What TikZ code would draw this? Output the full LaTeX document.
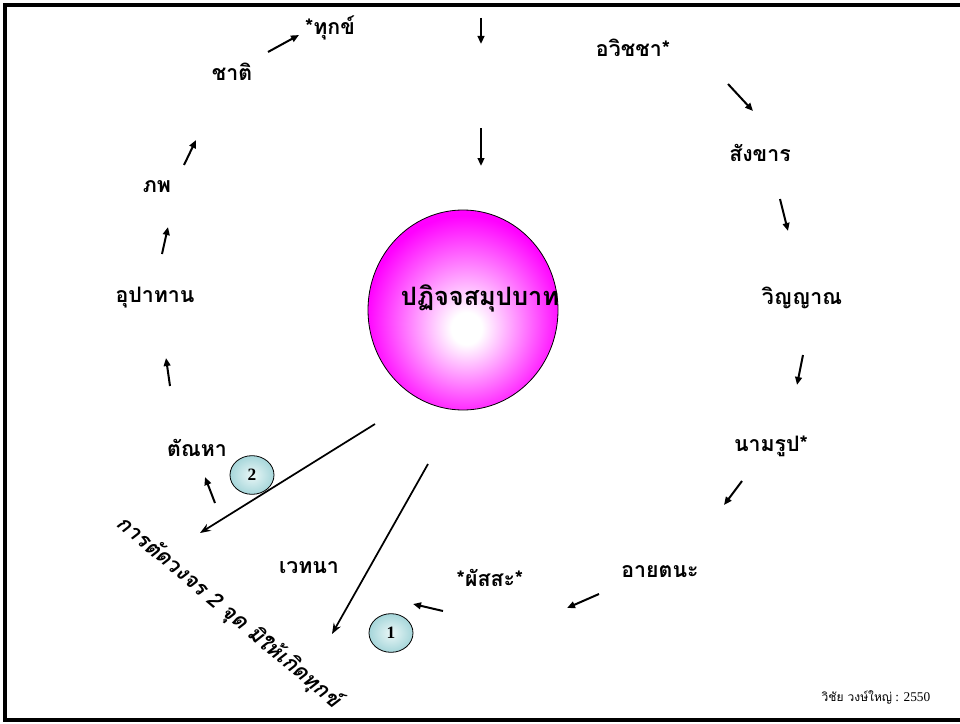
\documentclass[tikz,border=0pt]{standalone}
\usepackage{fontspec}
\setmainfont{Liberation Serif}
\newfontfamily\thai[Script=Thai]{Loma}
\usetikzlibrary{arrows.meta,shapes.geometric}
\definecolor{numin}{HTML}{EAF7F7}
\definecolor{numout}{HTML}{A6D6DA}
\pgfdeclareradialshading{ballshade}{\pgfpoint{1bp}{-5bp}}{color(0bp)=(white); color(4bp)=(white); color(26bp)=(magenta); color(50bp)=(magenta)}
\pgfdeclareradialshading{numshade}{\pgfpoint{0bp}{0bp}}{color(0bp)=(numin); color(25bp)=(numout); color(50bp)=(numout)}
\begin{document}
\begin{tikzpicture}[x=0.75pt,y=-0.75pt,
  lbl/.style={font=\thai\bfseries\fontsize{16}{19}\selectfont, inner sep=0pt},
  arr/.style={line width=1.5pt, -{Triangle[length=6pt,width=5pt]}},
  longarr/.style={line width=1.3pt, -{Stealth[length=8pt,width=6pt]}},
  num/.style={ellipse, draw, line width=0.6pt, shading=numshade, minimum width=33pt, minimum height=29pt, inner sep=0pt, font=\bfseries\fontsize{13}{14}\selectfont}]
\useasboundingbox (0,0) rectangle (960,724);
\draw[line width=2.4pt] (5,5) rectangle (966,720);

% central ball
\node[ellipse, draw, line width=0.6pt, shading=ballshade, minimum width=142.5pt, minimum height=150pt, inner sep=0pt] (ball) at (463,310) {};
\node[lbl, font=\thai\bfseries\fontsize{19}{22}\selectfont] (balltext) at (480,298) {ปฏิจจสมุปบาท};

% labels
\node[lbl] (tuk) at (330,28) {*ทุกข์};
\node[lbl] (chati) at (232,72) {ชาติ};
\node[lbl] (phop) at (157,187) {ภพ};
\node[lbl] (upa) at (155,298) {อุปาทาน};
\node[lbl] (tan) at (197,448) {ตัณหา};
\node[lbl] (we) at (309,568) {เวทนา};
\node[lbl] (phas) at (490,578) {*ผัสสะ*};
\node[lbl] (aya) at (660,572) {อายตนะ};
\node[lbl] (nam) at (771,446) {นามรูป*};
\node[lbl] (win) at (802,298) {วิญญาณ};
\node[lbl] (sang) at (760,153) {สังขาร};
\node[lbl] (awi) at (633,48) {อวิชชา*};

% numbered circles
\node[num] (n2) at (252,475) {2};
\node[num] (n1) at (391,633) {1};

% arrow end points
\coordinate (t1s) at (481,18);  \coordinate (t1e) at (481,44);
\coordinate (t2s) at (481,128); \coordinate (t2e) at (481,166);
\coordinate (a1s) at (268,52);  \coordinate (a1e) at (299,35);
\coordinate (a2s) at (184,165); \coordinate (a2e) at (196,140);
\coordinate (a3s) at (162,254); \coordinate (a3e) at (168,227);
\coordinate (a4s) at (170,386); \coordinate (a4e) at (166,358);
\coordinate (a5s) at (215,503); \coordinate (a5e) at (205,477);
\coordinate (a6s) at (443,611); \coordinate (a6e) at (413,604);
\coordinate (a7s) at (599,594); \coordinate (a7e) at (567,608);
\coordinate (a8s) at (742,481); \coordinate (a8e) at (724,505);
\coordinate (a9s) at (803,355); \coordinate (a9e) at (797,385);
\coordinate (a10s) at (780,199); \coordinate (a10e) at (788,231);
\coordinate (a11s) at (728,84); \coordinate (a11e) at (753,111);
\coordinate (l1s) at (375,424); \coordinate (l1e) at (200,533);
\coordinate (l2s) at (428,464); \coordinate (l2e) at (332,634);

\foreach \s/\e in {t1s/t1e,t2s/t2e,a1s/a1e,a2s/a2e,a3s/a3e,a4s/a4e,a5s/a5e,a6s/a6e,a7s/a7e,a8s/a8e,a9s/a9e,a10s/a10e,a11s/a11e}
  \draw[arr] (\s) -- (\e);
\draw[longarr] (l1s) -- (l1e);
\draw[longarr] (l2s) -- (l2e);

% rotated caption
\node[inner sep=0pt, rotate=-40, font=\thai\bfseries\itshape\fontsize{16}{19}\selectfont] (cut) at (229,612) {การตัดวงจร 2 จุด มิให้เกิดทุกข์};

% credit
\node[inner sep=0pt, font=\fontsize{10}{12}\selectfont] (credit) at (876,697) {{\thai\fontsize{9}{11}\selectfont วิชัย วงษ์ใหญ่} : 2550};
\end{tikzpicture}
\end{document}
